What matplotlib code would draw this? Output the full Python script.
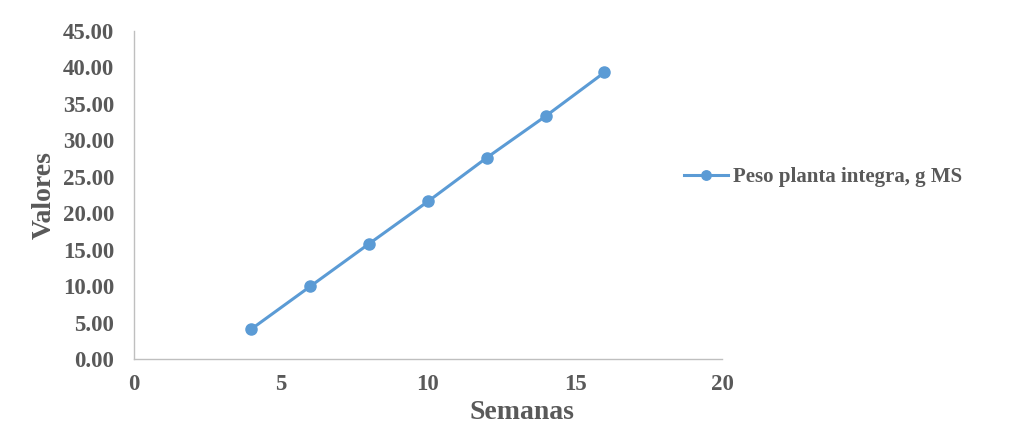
import matplotlib.pyplot as plt
from matplotlib.ticker import FormatStrFormatter

semanas = [4, 6, 8, 10, 12, 14, 16]
peso = [4.1, 9.95, 15.8, 21.6, 27.6, 33.3, 39.3]
serie = 'Peso planta integra, g MS'

grey = '#595959'
azul = '#5B9BD5'
plt.rcParams['font.family'] = ['Liberation Serif', 'DejaVu Serif']

fig = plt.figure(figsize=(10.2, 4.41), dpi=100)
ax = fig.add_axes([0.131, 0.186, 0.577, 0.744])

ax.plot(semanas, peso, color=azul, lw=2.2, marker='o', ms=8, label=serie)

ax.set_xlim(0, 20)
ax.set_ylim(0, 45)
ax.set_xticks([0, 5, 10, 15, 20])
ax.set_yticks(range(0, 46, 5))
ax.yaxis.set_major_formatter(FormatStrFormatter('%.2f'))

for s in ['top', 'right']:
    ax.spines[s].set_visible(False)
for s in ['left', 'bottom']:
    ax.spines[s].set_color('#BFBFBF')
    ax.spines[s].set_linewidth(1.0)

ax.tick_params(length=0, labelsize=16.5, colors=grey)
ax.tick_params(axis='y', pad=14)
ax.tick_params(axis='x', pad=11)
for t in ax.get_xticklabels() + ax.get_yticklabels():
    t.set_fontweight('bold')

ax.set_xlabel('Semanas', fontsize=20, fontweight='bold', color=grey)
ax.xaxis.set_label_coords(0.66, -0.125)
ax.set_ylabel('Valores', fontsize=20, fontweight='bold', color=grey)
ax.yaxis.set_label_coords(-0.13, 0.5)

leg = ax.legend(loc='center left', bbox_to_anchor=(0.935, 0.555), frameon=False,
                borderaxespad=0, borderpad=0, markerscale=0.85,
                prop={'size': 15, 'weight': 'bold'}, handlelength=2.1, handletextpad=0.25)
for t in leg.get_texts():
    t.set_color(grey)

fig.savefig('out.png', dpi=100)
